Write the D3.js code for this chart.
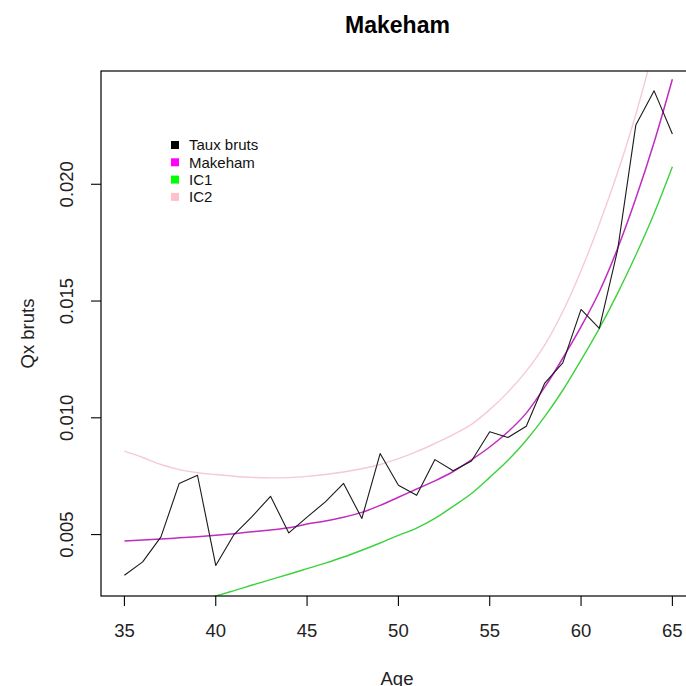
<!DOCTYPE html>
<html>
<head>
<meta charset="utf-8">
<script src="https://cdn.jsdelivr.net/npm/d3@7"></script>
<style>
  body { margin: 0; background: #fff; }
  svg { display: block; font-family: "Liberation Sans", Arial, sans-serif; }
</style>
</head>
<body>
<svg id="chart" width="686" height="686"></svg>
<script>
// ages 35..65
const ages = d3.range(35, 66);

// taux bruts (raw rates)
const tauxBruts = [0.00326, 0.00383, 0.0049, 0.00719, 0.00754, 0.00368, 0.0050, 0.00578, 0.00664, 0.00507,
  0.00575, 0.0064, 0.00719, 0.00569, 0.00847, 0.00711, 0.00668, 0.00821, 0.00773, 0.00815,
  0.0094, 0.00916, 0.00964, 0.01147, 0.01235, 0.01464, 0.01383, 0.01718, 0.02254, 0.0240, 0.02215];

// fitted Makeham
const makeham = [0.00473, 0.00477, 0.00481, 0.00486, 0.00491, 0.00497, 0.00504, 0.00512, 0.0052, 0.00529,
  0.00545, 0.00558, 0.00574, 0.00595, 0.00625, 0.0066, 0.00695, 0.0073, 0.0077, 0.0082,
  0.00875, 0.0094, 0.0102, 0.0113, 0.01255, 0.0139, 0.0154, 0.01725, 0.0194, 0.0218, 0.0245];

// lower bound IC1
const ic1 = [0.00089, 0.00124, 0.00162, 0.00194, 0.00217, 0.00237, 0.0026, 0.00284, 0.00307, 0.0033,
  0.00354, 0.00378, 0.00404, 0.00433, 0.00464, 0.00497, 0.00528, 0.00569, 0.00621, 0.00676,
  0.00745, 0.00818, 0.00904, 0.01004, 0.01118, 0.01247, 0.01383, 0.01533, 0.01697, 0.01875, 0.02075];

// upper bound IC2
const ic2 = [0.00857, 0.0083, 0.008, 0.00778, 0.00765, 0.00757, 0.0075, 0.00745, 0.00743, 0.00744,
  0.00749, 0.00757, 0.00768, 0.00782, 0.008, 0.00825, 0.00855, 0.0089, 0.00928, 0.00972,
  0.01035, 0.0111, 0.012, 0.0131, 0.01455, 0.0163, 0.0183, 0.0205, 0.023, 0.0259, 0.0292];

const xTicks = [35, 40, 45, 50, 55, 60, 65];
const yTicks = [0.005, 0.010, 0.015, 0.020];

const legendLabels = ["Taux bruts", "Makeham", "IC1", "IC2"];
const legendColors = ["#000000", "#ff00ff", "#00ff00", "#ffc0cb"];

const svg = d3.select("#chart");
const plot = { left: 101, top: 71, right: 694, bottom: 596 };

const x = d3.scaleLinear().domain([33.8, 66.2]).range([102.5, 694.3]);
const y = d3.scaleLinear().domain([0.00237, 0.02485]).range([596, 71]);

svg.append("defs").append("clipPath").attr("id", "clip")
  .append("rect")
  .attr("x", plot.left).attr("y", plot.top)
  .attr("width", plot.right - plot.left).attr("height", plot.bottom - plot.top);

const series = [
  { values: ic2, color: "#f5cad4", width: 1.4, smooth: true },
  { values: ic1, color: "#3cd23c", width: 1.4, smooth: true },
  { values: makeham, color: "#c02cc0", width: 1.5, smooth: true },
  { values: tauxBruts, color: "#1a1a1a", width: 1.1, smooth: false }
];

const g = svg.append("g").attr("clip-path", "url(#clip)");
g.selectAll("path").data(series).join("path")
  .attr("d", d => d3.line()
    .x((v, i) => x(ages[i])).y(v => y(v))
    .curve(d.smooth ? d3.curveMonotoneX : d3.curveLinear)(d.values))
  .attr("fill", "none")
  .attr("stroke", d => d.color)
  .attr("stroke-width", d => d.width)
  .attr("stroke-linejoin", "round");

// box
svg.append("rect")
  .attr("x", plot.left).attr("y", plot.top)
  .attr("width", plot.right - plot.left).attr("height", plot.bottom - plot.top)
  .attr("fill", "none").attr("stroke", "#000").attr("stroke-width", 1.2);

// x axis
const xAxis = svg.append("g");
xAxis.selectAll(".tick").data(xTicks).join("line")
  .attr("x1", d => x(d)).attr("x2", d => x(d))
  .attr("y1", plot.bottom).attr("y2", plot.bottom + 10)
  .attr("stroke", "#000").attr("stroke-width", 1.1);
xAxis.selectAll("text").data(xTicks).join("text")
  .attr("x", d => x(d)).attr("y", 637)
  .attr("text-anchor", "middle")
  .attr("font-size", 18.5).attr("fill", "#222")
  .text(d => d);

// y axis
const yAxis = svg.append("g");
yAxis.selectAll("line").data(yTicks).join("line")
  .attr("x1", plot.left - 10).attr("x2", plot.left)
  .attr("y1", d => y(d)).attr("y2", d => y(d))
  .attr("stroke", "#000").attr("stroke-width", 1.1);
yAxis.selectAll("text").data(yTicks).join("text")
  .attr("transform", d => `translate(73,${y(d)}) rotate(-90)`)
  .attr("text-anchor", "middle")
  .attr("font-size", 18.5).attr("fill", "#222")
  .text(d => d3.format(".3f")(d));

// titles
svg.append("text")
  .attr("x", 397.5).attr("y", 33)
  .attr("text-anchor", "middle")
  .attr("font-size", 23).attr("font-weight", "bold")
  .text("Makeham");
svg.append("text")
  .attr("x", 397).attr("y", 685)
  .attr("text-anchor", "middle")
  .attr("font-size", 18.5).attr("fill", "#222")
  .text("Age");
svg.append("text")
  .attr("transform", "translate(34,333.5) rotate(-90)")
  .attr("text-anchor", "middle")
  .attr("font-size", 18.5).attr("fill", "#222")
  .text("Qx bruts");

// legend
const legend = svg.append("g");
legend.selectAll("rect").data(legendLabels).join("rect")
  .attr("x", 171).attr("y", (d, i) => 141 + i * 17.3)
  .attr("width", 8).attr("height", 8)
  .attr("fill", (d, i) => legendColors[i]);
legend.selectAll("text").data(legendLabels).join("text")
  .attr("x", 189).attr("y", (d, i) => 145 + i * 17.3)
  .attr("dy", "0.35em")
  .attr("font-size", 15).attr("fill", "#111")
  .text(d => d);
</script>
</body>
</html>
